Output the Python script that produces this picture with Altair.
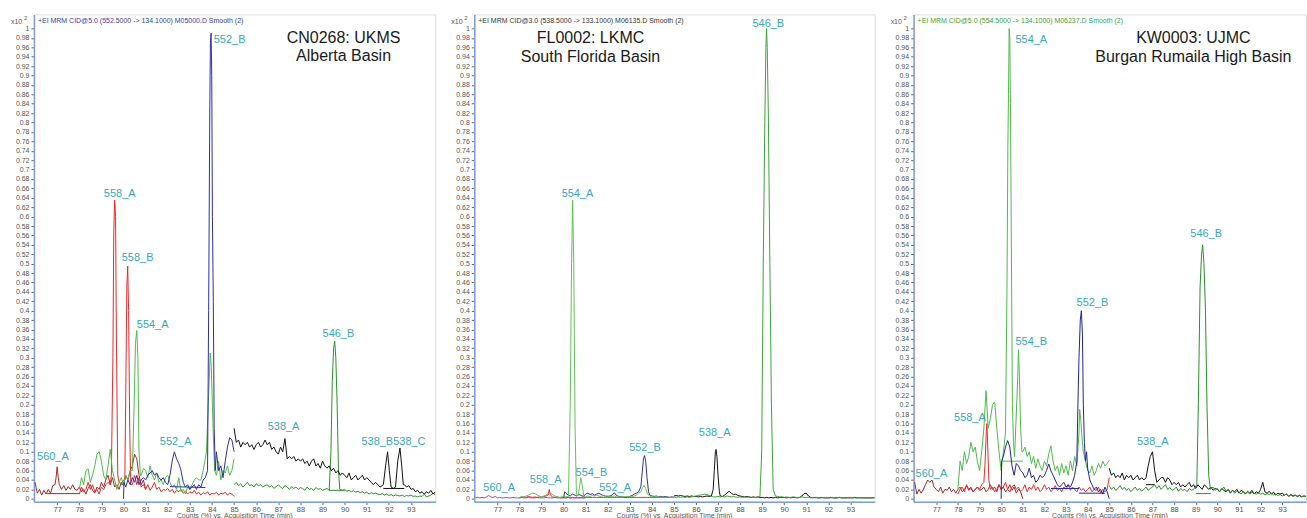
import altair as alt
import pandas as pd

STEP = 0.1


def grid(start, vals):
    # values at a 0.1-min sampling grid
    return [(round(start + k * STEP, 2), v) for k, v in enumerate(vals)]


# ---------------- colours ----------------
C560 = "#a0282c"
C558 = "#f02626"
C554 = "#4fba4a"
C552 = "#2e2ea2"
C546 = "#2b8f2b"
C538 = "#111111"
C560M = "#b444b4"
LABEL_C = "#36a9b6"

# ---------------- panel 1 : CN0268 ----------------
P1_560 = (grid(76.0, [0.035, 0.012, 0.02, 0.008, 0.018, 0.01, 0.02, 0.012, 0.028, 0.03])
          + [(76.95, 0.045), (77.0, 0.068), (77.05, 0.045)]
          + grid(77.1, [0.03, 0.02, 0.028, 0.018, 0.026, 0.02, 0.03, 0.02, 0.018,
                        0.025, 0.015, 0.02, 0.01, 0.022, 0.03, 0.018, 0.012, 0.025, 0.02,
                        0.035, 0.025, 0.04, 0.05, 0.03, 0.045, 0.025, 0.03, 0.02, 0.035,
                        0.028, 0.05, 0.04, 0.06, 0.07, 0.095, 0.085, 0.05, 0.03, 0.04,
                        0.02]))
P1_560_BASE = [(76.55, 0.011), (78.0, 0.011)]

P1_558 = (grid(78.0, [0.01, 0.025, 0.015, 0.02, 0.035, 0.02, 0.03, 0.015, 0.02, 0.01,
                      0.025, 0.02, 0.03, 0.035, 0.03])
          + [(79.45, 0.05), (79.52, 0.3), (79.56, 0.57), (79.6, 0.635), (79.64, 0.6),
             (79.68, 0.34), (79.74, 0.05)]
          + grid(79.8, [0.035, 0.03, 0.04])
          + [(80.06, 0.04), (80.11, 0.26), (80.15, 0.45), (80.19, 0.495), (80.23, 0.4),
             (80.28, 0.15), (80.33, 0.03)]
          + grid(80.4, [0.03, 0.05, 0.03, 0.045, 0.025, 0.03,
                        0.02, 0.03, 0.018, 0.025, 0.035, 0.02, 0.025, 0.015, 0.02, 0.018,
                        0.022, 0.015, 0.02, 0.012, 0.018, 0.015, 0.02, 0.012, 0.016, 0.01,
                        0.015, 0.012, 0.018, 0.01, 0.014, 0.008, 0.013, 0.01, 0.015, 0.008,
                        0.012, 0.01, 0.014, 0.008, 0.012, 0.01, 0.014, 0.008, 0.012, 0.01,
                        0.005]))

P1_554 = (grid(78.0, [0.02, 0.045, 0.03, 0.06, 0.064, 0.035, 0.05, 0.07, 0.095, 0.1,
                      0.08, 0.05, 0.04, 0.07, 0.105, 0.06, 0.04, 0.02, 0.035, 0.045,
                      0.03, 0.05, 0.04, 0.06])
          + [(80.4, 0.06), (80.48, 0.2), (80.54, 0.33), (80.6, 0.358), (80.65, 0.3),
             (80.7, 0.1), (80.76, 0.05)]
          + grid(80.8, [0.05, 0.065,
                        0.06, 0.045, 0.07, 0.05, 0.04, 0.055, 0.035, 0.04, 0.03, 0.045,
                        0.05, 0.035, 0.025, 0.03, 0.02, 0.045, 0.015, 0.02, 0.01, 0.025,
                        0.02, 0.03, 0.04, 0.045, 0.04])
          + [(83.5, 0.04), (83.6, 0.06), (83.75, 0.1), (83.85, 0.22), (83.92, 0.31),
             (83.97, 0.28), (84.05, 0.15), (84.12, 0.06)]
          + grid(84.2, [0.05, 0.08, 0.04, 0.06, 0.055, 0.07, 0.05, 0.06, 0.085]))

P1_552 = ([(80.0, 0.0), (80.02, 0.035)]
          + grid(80.1, [0.025, 0.04, 0.03, 0.045, 0.035, 0.05, 0.03, 0.04, 0.045,
                        0.04, 0.05, 0.055, 0.06, 0.05, 0.055, 0.045, 0.04, 0.045, 0.035,
                        0.03, 0.05, 0.08, 0.1, 0.085, 0.075, 0.06, 0.035, 0.025, 0.03,
                        0.02, 0.025, 0.03, 0.02, 0.03, 0.025, 0.04, 0.045])
          + [(83.8, 0.06), (83.85, 0.4), (83.9, 0.82), (83.93, 0.97), (83.96, 0.99),
             (83.99, 0.9), (84.02, 0.6), (84.06, 0.42), (84.1, 0.15), (84.15, 0.06)]
          + grid(84.2, [0.1, 0.06, 0.07, 0.045, 0.08, 0.11, 0.13, 0.125, 0.1]))
P1_552_BASE = [(82.1, 0.026), (83.7, 0.024)]

P1_546 = (grid(85.0, [0.03, 0.035, 0.028, 0.032, 0.025, 0.03, 0.035, 0.028, 0.03, 0.025,
                      0.032, 0.028, 0.03, 0.025, 0.028, 0.03, 0.025, 0.028, 0.022, 0.026,
                      0.03, 0.025, 0.022, 0.028, 0.025, 0.02, 0.026, 0.022, 0.025, 0.02,
                      0.024, 0.022, 0.018, 0.025, 0.02, 0.022, 0.018, 0.024, 0.02, 0.022,
                      0.018, 0.02, 0.022, 0.018])
          + [(89.38, 0.1), (89.44, 0.25), (89.5, 0.32), (89.55, 0.335), (89.6, 0.3),
             (89.66, 0.2), (89.72, 0.06), (89.78, 0.02)]
          + grid(89.9, [0.018,
                        0.02, 0.016, 0.018, 0.015, 0.017, 0.014, 0.016, 0.013, 0.015, 0.012,
                        0.014, 0.01, 0.013, 0.011, 0.012, 0.01, 0.009, 0.011, 0.008, 0.01,
                        0.007, 0.009, 0.006, 0.008, 0.007, 0.006, 0.008, 0.005, 0.007, 0.006,
                        0.008, 0.005, 0.006, 0.004, 0.006, 0.005, 0.01, 0.004, 0.006, 0.008,
                        0.012, 0.008]))
P1_546_BASE = [(89.3, 0.018), (90.0, 0.018)]

P1_538 = (grid(85.0, [0.15, 0.12, 0.125, 0.11, 0.12, 0.115, 0.12, 0.11, 0.115, 0.105,
                      0.115, 0.12, 0.11, 0.115, 0.125, 0.115, 0.12, 0.105, 0.11, 0.1,
                      0.095, 0.11, 0.1, 0.128, 0.085, 0.09, 0.085, 0.09, 0.08, 0.085,
                      0.08, 0.085, 0.075, 0.08, 0.07, 0.08, 0.085, 0.07, 0.075, 0.065,
                      0.08, 0.07, 0.065, 0.07, 0.06, 0.065, 0.055, 0.06, 0.05, 0.055,
                      0.05, 0.045, 0.055, 0.04, 0.045, 0.05, 0.04, 0.045, 0.05, 0.04,
                      0.045, 0.04, 0.035, 0.03, 0.035, 0.03, 0.025])
          + [(91.75, 0.03), (91.85, 0.07), (91.94, 0.1), (92.02, 0.06), (92.1, 0.025),
             (92.2, 0.022), (92.3, 0.025), (92.4, 0.08), (92.5, 0.108), (92.58, 0.07),
             (92.65, 0.03)]
          + grid(92.7, [0.03, 0.025, 0.028,
                        0.02, 0.022, 0.015, 0.018, 0.012, 0.015, 0.01, 0.015, 0.012, 0.018,
                        0.01, 0.015]))
P1_538_BASE = [(91.75, 0.022), (92.7, 0.022)]

# ---------------- panel 2 : FL0002 ----------------
P2_560 = grid(76.0, [0.002, 0.003, 0.002, 0.003, 0.002, 0.004, 0.007, 0.004, 0.003, 0.005,
                     0.002, 0.003, 0.002, 0.002, 0.003, 0.002, 0.002, 0.003, 0.002, 0.002,
                     0.002, 0.003, 0.002, 0.002, 0.003, 0.002, 0.002, 0.002, 0.003, 0.002,
                     0.002, 0.002, 0.003, 0.002, 0.002, 0.002, 0.003, 0.002, 0.002, 0.002,
                     0.002, 0.002, 0.003, 0.002, 0.002, 0.002, 0.002, 0.002, 0.002, 0.002,
                     0.002])

P2_558 = (grid(78.0, [0.002, 0.003, 0.004, 0.003, 0.005, 0.004, 0.003, 0.004, 0.003, 0.004,
                      0.004, 0.005, 0.006, 0.008, 0.008, 0.004, 0.003, 0.004, 0.003, 0.002,
                      0.003, 0.002, 0.003, 0.002, 0.003, 0.002, 0.003, 0.002, 0.003, 0.002,
                      0.003, 0.003, 0.003, 0.003, 0.003, 0.003, 0.003, 0.003, 0.003, 0.003,
                      0.003, 0.003, 0.003, 0.003, 0.003, 0.003, 0.003, 0.003, 0.003, 0.003,
                      0.003, 0.003, 0.003, 0.003, 0.003, 0.003, 0.003, 0.003, 0.003, 0.003,
                      0.003, 0.003, 0.003, 0.003, 0.003, 0.003, 0.003, 0.003, 0.003, 0.003,
                      0.003])
          + [(79.35, 0.02)])

P2_554 = (grid(78.0, [0.003, 0.005, 0.004, 0.006, 0.008, 0.01, 0.012, 0.011, 0.008, 0.006,
                      0.004, 0.006, 0.008, 0.011, 0.012, 0.009, 0.006, 0.004, 0.003, 0.004,
                      0.005, 0.004])
          + [(80.22, 0.005), (80.3, 0.2), (80.36, 0.5), (80.41, 0.635), (80.46, 0.5),
             (80.52, 0.15), (80.58, 0.01), (80.65, 0.006), (80.72, 0.025), (80.78, 0.045),
             (80.84, 0.03), (80.92, 0.005)]
          + grid(81.0, [0.004, 0.006, 0.005, 0.007, 0.006, 0.008, 0.006, 0.005, 0.007, 0.005,
                        0.006, 0.004, 0.005, 0.006, 0.004, 0.005, 0.003, 0.004, 0.005, 0.004,
                        0.005, 0.004, 0.006, 0.008, 0.012])
          + [(83.5, 0.015), (83.58, 0.024), (83.65, 0.028), (83.72, 0.022), (83.8, 0.01)]
          + grid(83.9, [0.006, 0.005, 0.004, 0.005, 0.004, 0.003, 0.004, 0.003, 0.004, 0.003,
                        0.003, 0.003]))

P2_552 = ([(80.0, 0.002), (80.05, 0.015)]
          + grid(80.1, [0.012, 0.008, 0.006, 0.01, 0.008, 0.006, 0.009, 0.007, 0.005,
                        0.01, 0.012, 0.009, 0.011, 0.008, 0.01, 0.012, 0.009, 0.007, 0.006,
                        0.005, 0.006, 0.008, 0.013, 0.007, 0.005, 0.004, 0.004, 0.003, 0.004,
                        0.005, 0.007, 0.01, 0.012, 0.015])
          + [(83.5, 0.025), (83.56, 0.055), (83.62, 0.085), (83.67, 0.092), (83.72, 0.08),
             (83.78, 0.045), (83.85, 0.015)]
          + grid(83.9, [0.008, 0.006, 0.005, 0.006, 0.004, 0.005, 0.004, 0.005, 0.004, 0.003,
                        0.004, 0.003]))

P2_538 = (grid(85.0, [0.006, 0.007, 0.006, 0.007, 0.006, 0.005, 0.006, 0.005, 0.006, 0.005,
                      0.005, 0.004, 0.005, 0.004, 0.005, 0.006, 0.005, 0.006])
          + [(86.78, 0.02), (86.83, 0.06), (86.88, 0.1), (86.91, 0.105), (86.95, 0.09),
             (87.0, 0.05), (87.06, 0.015)]
          + grid(87.1, [0.006, 0.005, 0.008, 0.012, 0.016, 0.012, 0.009, 0.01, 0.007,
                        0.006, 0.005, 0.004, 0.005, 0.004, 0.003, 0.004, 0.003, 0.004, 0.003,
                        0.003, 0.002, 0.003, 0.002, 0.003, 0.002, 0.003, 0.002, 0.003, 0.003,
                        0.003, 0.002, 0.003, 0.002, 0.003, 0.003, 0.002, 0.003, 0.006, 0.011,
                        0.012, 0.006, 0.003, 0.002, 0.003, 0.002, 0.002, 0.003, 0.002, 0.002,
                        0.002, 0.003, 0.002, 0.002, 0.002, 0.003, 0.002, 0.002, 0.002, 0.002,
                        0.002, 0.002, 0.003, 0.002, 0.002, 0.002, 0.002, 0.002, 0.002, 0.002,
                        0.002, 0.002]))

P2_546 = (grid(85.0, [0.004, 0.003, 0.004, 0.003, 0.004, 0.003, 0.004, 0.003, 0.004, 0.005,
                      0.006, 0.007, 0.008, 0.009, 0.01, 0.009, 0.007, 0.005, 0.004, 0.004,
                      0.005, 0.004, 0.005, 0.004, 0.006, 0.005, 0.004, 0.005, 0.004, 0.003,
                      0.004, 0.003, 0.004, 0.003, 0.004, 0.003, 0.003, 0.003, 0.003])
          + [(88.9, 0.005), (88.98, 0.1), (89.05, 0.5), (89.12, 0.8), (89.17, 0.96),
             (89.2, 1.0), (89.23, 0.96), (89.28, 0.82), (89.35, 0.5), (89.42, 0.2),
             (89.5, 0.02)]
          + grid(89.6, [0.006, 0.005, 0.004, 0.004,
                        0.003, 0.004, 0.003, 0.003, 0.004, 0.003, 0.003, 0.003, 0.004, 0.003,
                        0.003, 0.003, 0.002, 0.003, 0.002, 0.003, 0.002, 0.002, 0.003, 0.002,
                        0.002, 0.002, 0.003, 0.002, 0.002, 0.003, 0.002, 0.002, 0.002, 0.003,
                        0.003, 0.002, 0.002, 0.002, 0.003, 0.002, 0.002, 0.002, 0.002, 0.002,
                        0.002, 0.002]))

# ---------------- panel 3 : KW0003 ----------------
P3_560 = grid(76.0, [0.035, 0.01, 0.02, 0.012, 0.02, 0.03, 0.04, 0.035, 0.04, 0.025,
                     0.02, 0.015, 0.025, 0.012, 0.02, 0.018, 0.025, 0.015, 0.02, 0.012,
                     0.02, 0.025, 0.015, 0.02, 0.028, 0.018, 0.022, 0.015, 0.02, 0.025,
                     0.018, 0.02, 0.025, 0.015, 0.02, 0.03, 0.02, 0.025, 0.015, 0.03,
                     0.02, 0.025, 0.015, 0.02, 0.03, 0.018, 0.025, 0.012, 0.02, 0.015,
                     0.0])

P3_558 = (grid(78.0, [0.01, 0.02, 0.025, 0.015, 0.03, 0.02, 0.025, 0.015, 0.02, 0.025,
                      0.02, 0.03, 0.035])
          + [(79.26, 0.08), (79.31, 0.14), (79.34, 0.16), (79.38, 0.11), (79.43, 0.04)]
          + grid(79.5, [0.02, 0.025, 0.015, 0.02, 0.03,
                        0.02, 0.025, 0.035, 0.02, 0.015, 0.025, 0.03, 0.02, 0.025, 0.015,
                        0.02, 0.03, 0.015, 0.025, 0.02, 0.03, 0.018, 0.025, 0.015, 0.02,
                        0.03, 0.02, 0.025, 0.015, 0.02, 0.028, 0.018, 0.022, 0.015, 0.025,
                        0.02, 0.03, 0.018, 0.025, 0.02, 0.015, 0.025, 0.018, 0.022, 0.015,
                        0.02, 0.025, 0.015, 0.02, 0.018, 0.025, 0.012, 0.02, 0.015, 0.02,
                        0.045]))

P3_554 = (grid(78.0, [0.02, 0.08, 0.06, 0.1, 0.075, 0.09, 0.12, 0.1, 0.11, 0.08,
                      0.06, 0.1, 0.15, 0.23, 0.15, 0.17, 0.2, 0.206, 0.15, 0.1,
                      0.06, 0.1, 0.14])
          + [(80.27, 0.45), (80.31, 0.75), (80.34, 0.86), (80.37, 1.0), (80.4, 0.98),
             (80.43, 0.84), (80.47, 0.55), (80.52, 0.2), (80.57, 0.12),
             (80.62, 0.09), (80.7, 0.18), (80.76, 0.25), (80.8, 0.317), (80.84, 0.27),
             (80.9, 0.15), (80.96, 0.1)]
          + grid(81.0, [0.1, 0.11, 0.09, 0.1, 0.075, 0.09, 0.065, 0.085, 0.07, 0.06,
                        0.08, 0.07, 0.095, 0.113, 0.08, 0.06, 0.07, 0.05, 0.075, 0.055,
                        0.07, 0.05, 0.08, 0.06, 0.09, 0.07, 0.14])
          + [(83.63, 0.19), (83.68, 0.17), (83.74, 0.13), (83.8, 0.1)]
          + grid(83.9, [0.08, 0.06, 0.055, 0.07, 0.05, 0.06, 0.075, 0.065, 0.08, 0.07,
                        0.075, 0.082]))
P3_554_BASE = [(80.08, 0.08), (81.0, 0.08)]

P3_552 = ([(80.0, 0.0), (80.02, 0.08)]
          + grid(80.1, [0.09, 0.11, 0.124, 0.11, 0.07, 0.05, 0.075, 0.07, 0.06,
                        0.055, 0.045, 0.05, 0.065, 0.045, 0.05, 0.035, 0.04, 0.05, 0.045,
                        0.05, 0.06, 0.074, 0.06, 0.05, 0.04, 0.03, 0.025, 0.03, 0.035,
                        0.025, 0.03, 0.025, 0.035, 0.05])
          + [(83.5, 0.08), (83.55, 0.2), (83.6, 0.3), (83.66, 0.38), (83.71, 0.4),
             (83.76, 0.35), (83.8, 0.2), (83.85, 0.12), (83.9, 0.08), (83.95, 0.1),
             (84.0, 0.065)]
          + grid(84.1, [0.04, 0.03, 0.02, 0.025, 0.015, 0.02, 0.01, 0.025, 0.015])
          + [(85.0, 0.0)])
P3_552_BASE_A = [(82.3, 0.022), (83.6, 0.022)]
P3_552_BASE_B = [(83.6, 0.012), (84.8, 0.012)]

P3_538 = grid(85.0, [0.065, 0.05, 0.055, 0.045, 0.05, 0.045, 0.055, 0.04, 0.05, 0.045,
                     0.05, 0.04, 0.045, 0.05, 0.04, 0.045, 0.04, 0.045, 0.07, 0.09,
                     0.1, 0.06, 0.035, 0.04, 0.045, 0.045, 0.035, 0.045, 0.04, 0.03,
                     0.035, 0.03, 0.035, 0.025, 0.03, 0.025, 0.03, 0.035, 0.025, 0.03,
                     0.022, 0.03, 0.025, 0.02, 0.03, 0.025, 0.02, 0.025, 0.018, 0.022,
                     0.02, 0.015, 0.022, 0.018, 0.015, 0.02, 0.012, 0.018, 0.015, 0.02,
                     0.012, 0.018, 0.015, 0.01, 0.016, 0.012, 0.018, 0.01, 0.015, 0.012,
                     0.02, 0.035, 0.015, 0.012, 0.016, 0.01, 0.014, 0.008, 0.012, 0.01,
                     0.012, 0.008, 0.01, 0.005, 0.009, 0.006, 0.008, 0.005, 0.007, 0.004,
                     0.006, 0.005])
P3_538_BASE = [(86.7, 0.03), (87.1, 0.03)]

P3_546 = (grid(85.0, [0.028, 0.02, 0.025, 0.018, 0.022, 0.028, 0.02, 0.024, 0.018, 0.022,
                      0.015, 0.02, 0.025, 0.018, 0.022, 0.016, 0.02, 0.025, 0.018, 0.022,
                      0.025, 0.03, 0.022, 0.028, 0.02, 0.025, 0.03, 0.02, 0.024, 0.018,
                      0.02, 0.025, 0.016, 0.022, 0.018, 0.02, 0.015, 0.022, 0.018, 0.02])
          + [(89.05, 0.03), (89.12, 0.2), (89.2, 0.45), (89.27, 0.52), (89.32, 0.54),
             (89.38, 0.5), (89.45, 0.4), (89.52, 0.2), (89.6, 0.05), (89.68, 0.02)]
          + grid(89.8, [0.025, 0.018,
                        0.022, 0.015, 0.02, 0.025, 0.016, 0.02, 0.014, 0.018, 0.012, 0.016,
                        0.014, 0.01, 0.016, 0.012, 0.015, 0.01, 0.014, 0.012, 0.01, 0.013,
                        0.01, 0.012, 0.008, 0.011, 0.009, 0.012, 0.008, 0.01, 0.007, 0.009,
                        0.006, 0.008, 0.01, 0.006, 0.008, 0.005, 0.007, 0.006, 0.008, 0.005,
                        0.006, 0.005]))
P3_546_BASE = [(89.0, 0.011), (89.7, 0.011)]

# ---------------- annotations ----------------
P1_LABELS = [("552_B", 84.08, 0.975), ("558_A", 79.11, 0.648), ("558_B", 79.92, 0.512),
             ("554_A", 80.6, 0.37), ("546_B", 89.0, 0.351), ("552_A", 81.64, 0.12),
             ("560_A", 76.09, 0.088), ("538_A", 86.52, 0.153), ("538_B538_C", 90.76, 0.12)]
P2_LABELS = [("546_B", 88.56, 1.009), ("554_A", 79.91, 0.648), ("552_B", 82.97, 0.107),
             ("538_A", 86.13, 0.139), ("554_B", 80.54, 0.054), ("558_A", 78.47, 0.039),
             ("552_A", 81.62, 0.024), ("560_A", 76.36, 0.024)]
P3_LABELS = [("554_A", 80.66, 0.975), ("554_B", 80.66, 0.334), ("552_B", 83.49, 0.416),
             ("546_B", 88.75, 0.563), ("558_A", 77.82, 0.172), ("560_A", 76.04, 0.053),
             ("538_A", 86.28, 0.12)]

P1_TITLE = [("CN0268: UKMS", 89.95, 0.979), ("Alberta Basin", 89.95, 0.942)]
P2_TITLE = [("FL0002: LKMC", 81.22, 0.979), ("South Florida Basin", 81.22, 0.94)]
P3_TITLE = [("KW0003: UJMC", 88.89, 0.979), ("Burgan Rumaila High Basin", 88.89, 0.94)]

P1_HEADER = "+EI MRM CID@5.0 (552.5000 -> 134.1000) M05000.D  Smooth (2)"
P2_HEADER = "+EI MRM CID@3.0 (538.5000 -> 133.1000) M06135.D  Smooth (2)"
P3_HEADER = "+EI MRM CID@5.0 (554.5000 -> 134.1000) M06237.D  Smooth (2)"
X_TITLE = "Counts (%) vs. Acquisition Time (min)"

X_TICKS = list(range(77, 94))
Y_TICKS = [round(0.02 * k, 2) for k in range(51)]
XDOM = [75.95, 94.1]
YDOM = [-0.006, 1.03]
H = 488
FONT = "Liberation Sans"

XAXIS = alt.Axis(values=X_TICKS, format="d", labelFontSize=7.5, labelColor="#555555",
                 labelFont=FONT, tickColor="#666666", tickSize=3, domainColor="#7e9fd6",
                 domainWidth=1.5, grid=False, title="", labelPadding=1, labelOverlap=False)
YAXIS = alt.Axis(values=Y_TICKS, format=".2~f", labelFontSize=7, labelColor="#555555",
                 labelFont=FONT, tickColor="#666666", tickSize=3, domainColor="#7f9bd6",
                 domainWidth=1.5, grid=False, title="", labelPadding=2, labelOverlap=False)


def enc_x():
    return alt.X("t:Q", scale=alt.Scale(domain=XDOM, nice=False, zero=False), axis=XAXIS)


def enc_y():
    return alt.Y("v:Q", scale=alt.Scale(domain=YDOM, nice=False, zero=False), axis=YAXIS)


def make_panel(traces, labels, title, header, header_color, width):
    rows = []
    for name, color, pts in traces:
        for i, (t, v) in enumerate(sorted(pts)):
            rows.append({"series": name, "color": color, "t": t, "v": v, "i": i})
    df = pd.DataFrame(rows)
    lines = alt.Chart(df).mark_line(strokeWidth=1, clip=True).encode(
        x=enc_x(), y=enc_y(),
        color=alt.Color("color:N", scale=None),
        detail="series:N", order="i:Q")
    lab_df = pd.DataFrame(labels, columns=["text", "t", "v"])
    labs = alt.Chart(lab_df).mark_text(align="left", baseline="middle", fontSize=11,
                                       font=FONT, color=LABEL_C).encode(
        x=enc_x(), y=enc_y(), text="text:N")
    tit_df = pd.DataFrame(title, columns=["text", "t", "v"])
    tits = alt.Chart(tit_df).mark_text(align="center", baseline="middle", fontSize=16,
                                       font=FONT, color="#1a1a1a").encode(
        x=enc_x(), y=enc_y(), text="text:N")
    one = pd.DataFrame({"k": [0]})
    head = alt.Chart(one).mark_text(align="left", baseline="middle", fontSize=7,
                                    font=FONT, color=header_color).encode(
        x=alt.value(4), y=alt.value(7), text=alt.value(header))
    x10 = alt.Chart(one).mark_text(align="left", baseline="middle", fontSize=7,
                                   font=FONT, color="#555555").encode(
        x=alt.value(-23), y=alt.value(8), text=alt.value("x10"))
    sup = alt.Chart(one).mark_text(align="left", baseline="middle", fontSize=6,
                                   font=FONT, color="#555555").encode(
        x=alt.value(-10), y=alt.value(4), text=alt.value("2"))
    xt = alt.Chart(one).mark_text(align="center", baseline="bottom", fontSize=7,
                                  font=FONT, color="#555555").encode(
        x=alt.value(width / 2), y=alt.value(H + 17), text=alt.value(X_TITLE))
    return alt.layer(lines, labs, tits, head, x10, sup, xt).properties(width=width, height=H)


p1 = make_panel([
    ("560", C560, P1_560), ("560b", C560, P1_560_BASE),
    ("558", C558, P1_558), ("554", C554, P1_554),
    ("552", C552, P1_552), ("552b", C552, P1_552_BASE),
    ("546", C546, P1_546), ("546b", C546, P1_546_BASE),
    ("538", C538, P1_538), ("538b", C538, P1_538_BASE)],
    P1_LABELS, P1_TITLE, P1_HEADER, "#3b3ba5", 402)

p2 = make_panel([
    ("560", C560M, P2_560), ("558", C558, P2_558), ("552", C552, P2_552),
    ("554", "#62c255", P2_554), ("538", C538, P2_538), ("546", "#3aa43a", P2_546)],
    P2_LABELS, P2_TITLE, P2_HEADER, "#333333", 401)

p3 = make_panel([
    ("560", C560, P3_560), ("558", C558, P3_558),
    ("554", C554, P3_554), ("554b", C554, P3_554_BASE),
    ("552", "#23239a", P3_552), ("552a", "#23239a", P3_552_BASE_A),
    ("552c", "#23239a", P3_552_BASE_B),
    ("538", C538, P3_538), ("538b", C538, P3_538_BASE),
    ("546", C546, P3_546), ("546b", C546, P3_546_BASE)],
    P3_LABELS, P3_TITLE, P3_HEADER, "#3aa53a", 393)

chart = alt.hconcat(p1, p2, p3, spacing=39, bounds="flush").properties(
    padding={"left": 10, "top": 13, "right": 0, "bottom": 0}
).configure_view(stroke="#a9bfe6", strokeWidth=1).configure(font=FONT)

chart.save("out.html", embed_options={"renderer": "svg", "actions": False})
